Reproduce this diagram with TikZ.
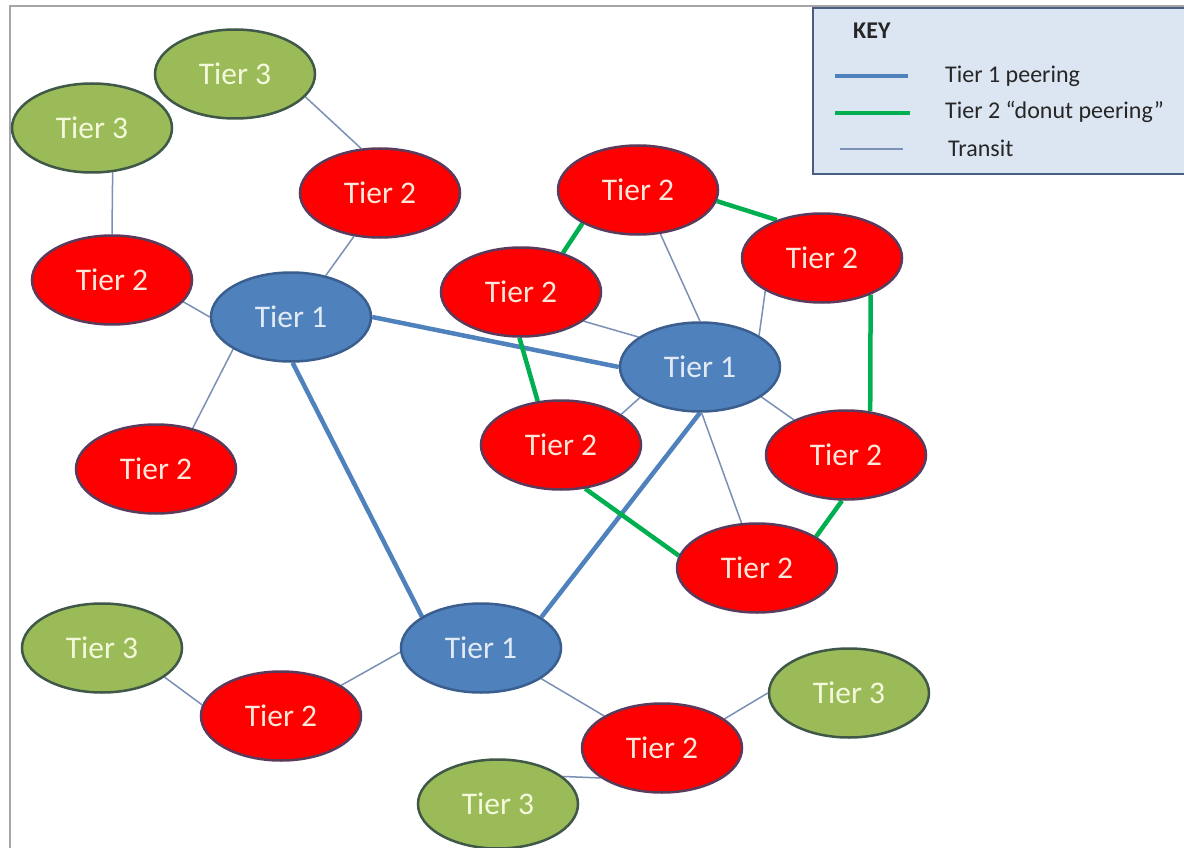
\documentclass[tikz,border=0pt]{standalone}
\usepackage{fontspec}
\setmainfont{Carlito}
\usetikzlibrary{shapes.geometric,backgrounds}

\definecolor{tOneFill}{HTML}{4F81BD}
\definecolor{tOneLine}{HTML}{3A5F8E}
\definecolor{tOneText}{HTML}{E2EAF5}
\definecolor{tTwoFill}{HTML}{FF0000}
\definecolor{tTwoLine}{HTML}{5B3B5C}
\definecolor{tTwoText}{HTML}{FDE6DA}
\definecolor{tThreeFill}{HTML}{9BBB59}
\definecolor{tThreeLine}{HTML}{3F5848}
\definecolor{tThreeText}{HTML}{F3F9DA}
\definecolor{transitCol}{HTML}{7A90B4}
\definecolor{donutCol}{HTML}{00B050}
\definecolor{keyFill}{HTML}{DCE6F2}
\definecolor{keyLine}{HTML}{4A5E84}
\definecolor{frameCol}{HTML}{A6A6A6}

\begin{document}
\begin{tikzpicture}[x=1pt,y=-1pt,
  tier/.style={ellipse, minimum width=160pt, minimum height=89pt, inner sep=0pt,
               line width=2.5pt, font=\fontsize{31.5}{34}\selectfont},
  tierone/.style={tier, fill=tOneFill, draw=tOneLine, text=tOneText},
  tiertwo/.style={tier, fill=tTwoFill, draw=tTwoLine, text=tTwoText},
  tierthree/.style={tier, fill=tThreeFill, draw=tThreeLine, text=tThreeText},
  transit/.style={draw=transitCol, line width=1.5pt},
  peerone/.style={draw=tOneFill, line width=4.5pt},
  donut/.style={draw=donutCol, line width=4.5pt},
  keytext/.style={anchor=base west, inner sep=0pt, font=\fontsize{24}{27}\selectfont, text=black!85},
]
\useasboundingbox (0,0) rectangle (1184,848);

% tier 3 networks
\node[tierthree] (g1) at (235,74)  {Tier 3};
\node[tierthree] (g2) at (92,128)  {Tier 3};
\node[tierthree] (g3) at (102,648) {Tier 3};
\node[tierthree] (g4) at (498,804) {Tier 3};
\node[tierthree] (g5) at (849,693) {Tier 3};

% tier 2 networks
\node[tiertwo] (r1) at (380,193) {Tier 2};
\node[tiertwo] (r2) at (112,280) {Tier 2};
\node[tiertwo] (r3) at (156,469) {Tier 2};
\node[tiertwo] (r4) at (281,716) {Tier 2};
\node[tiertwo] (r5) at (662,748) {Tier 2};
\node[tiertwo] (c1) at (521,292) {Tier 2};
\node[tiertwo] (c2) at (638,190) {Tier 2};
\node[tiertwo] (c3) at (822,258) {Tier 2};
\node[tiertwo] (c4) at (561,445) {Tier 2};
\node[tiertwo] (c5) at (846,455) {Tier 2};
\node[tiertwo] (c6) at (757,568) {Tier 2};

% tier 1 networks
\node[tierone] (b1) at (291,317) {Tier 1};
\node[tierone] (b2) at (700,367) {Tier 1};
\node[tierone] (b3) at (481,648) {Tier 1};

\begin{scope}[on background layer]
  \fill[white] (0,0) rectangle (1184,848);
  \draw[frameCol, line width=2pt] (10,848) -- (10,6) -- (1184,6);

  % transit links
  \draw[transit] (g1.-18)  -- (r1.113);
  \draw[transit] (g2.-65)  -- (r2.90);
  \draw[transit] (r1.239)  -- (b1.50);
  \draw[transit] (r2.-17)  -- (b1.180);
  \draw[transit] (r3.48)   -- (b1.209);
  \draw[transit] (c1.-25)  -- (b2.154);
  \draw[transit] (c2.-63)  -- (b2.90);
  \draw[transit] (c3.210)  -- (b2.28);
  \draw[transit] (c4.27)   -- (b2.207);
  \draw[transit] (c5.146)  -- (b2.-26);
  \draw[transit] (c6.109)  -- (b2.-88);
  \draw[transit] (g3.-25)  -- (r4.172);
  \draw[transit] (r4.27)   -- (b3.183);
  \draw[transit] (b3.-27)  -- (r5.151);
  \draw[transit] (r5.206)  -- (g4.23);
  \draw[transit] (r5.25)   -- (g5.180);

  % tier 1 peering
  \draw[peerone] (b1.0)   -- (b2.180);
  \draw[peerone] (b1.-88) -- (b3.152);
  \draw[peerone] (b2.-90) -- (b3.27);

  % tier 2 donut peering
  \draw[donut] (c1.43)  -- (c2.211);
  \draw[donut] (c2.-8)  -- (c3.140);
  \draw[donut] (c3.-37) -- (c5.61);
  \draw[donut] (c1.-92) -- (c4.118);
  \draw[donut] (c4.-61) -- (c6.171);
  \draw[donut] (c6.28)  -- (c5.-95);
\end{scope}

% key
\draw[keyLine, fill=keyFill, line width=2.5pt] (813,8) rectangle (1194,174);
\node[keytext, font=\fontsize{24}{27}\selectfont\bfseries] (keytitle) at (853,39) {KEY};
\node[keytext] (keyone)   at (945,83)  {Tier 1 peering};
\node[keytext] (keytwo)   at (945,119) {Tier 2 “donut peering”};
\node[keytext] (keythree) at (948,157) {Transit};
\coordinate (s1a) at (835,76);  \coordinate (s1b) at (908,76);
\coordinate (s2a) at (835,113); \coordinate (s2b) at (910,113);
\coordinate (s3a) at (840,149); \coordinate (s3b) at (903,149);
\draw[peerone] (s1a) -- (s1b);
\draw[donut]   (s2a) -- (s2b);
\draw[transit] (s3a) -- (s3b);
\end{tikzpicture}
\end{document}
